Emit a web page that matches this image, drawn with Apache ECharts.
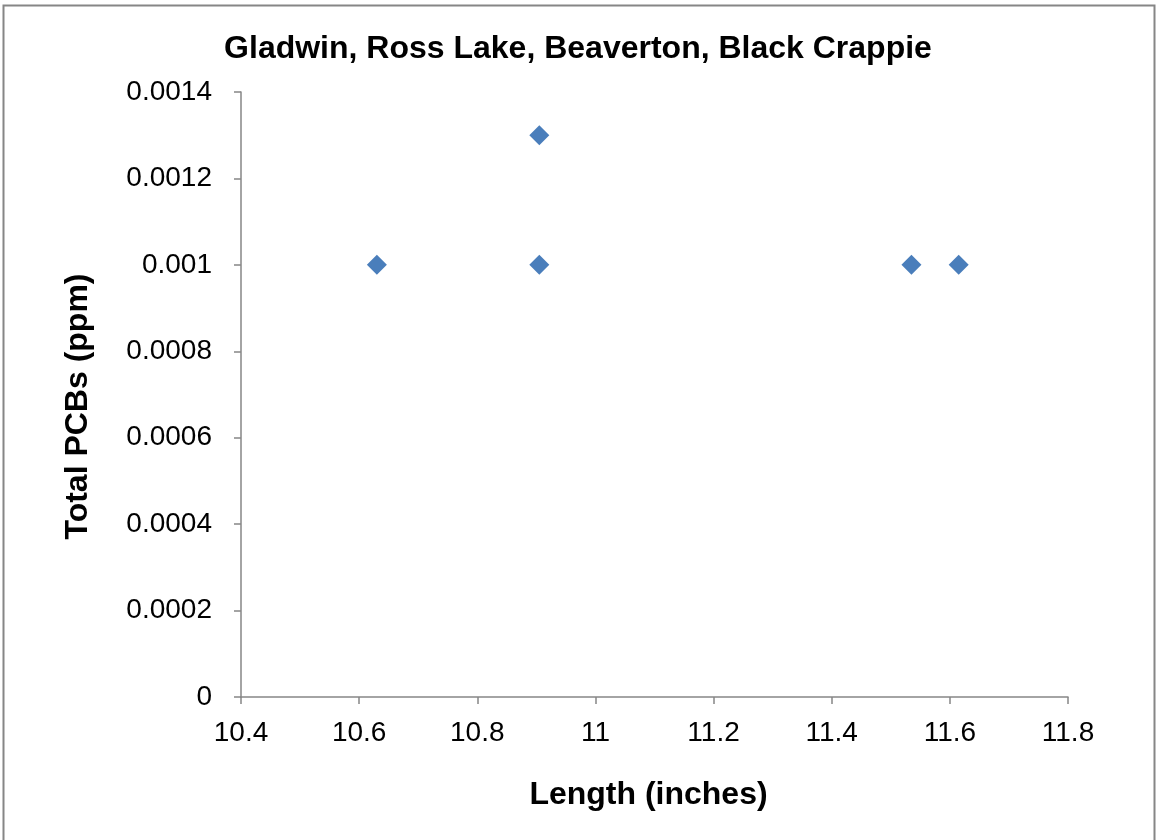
<!DOCTYPE html>
<html>
<head>
<meta charset="utf-8">
<script src="https://cdn.jsdelivr.net/npm/echarts@6/dist/echarts.min.js"></script>
<style>
  html, body { margin: 0; padding: 0; background: #fff; }
  #main { width: 1156px; height: 840px; }
</style>
</head>
<body>
<div id="main"></div>
<script>
// 数据
var lengths = [10.63, 10.905, 10.905, 11.535, 11.615];
var pcbs = [0.001, 0.0013, 0.001, 0.001, 0.001];
var xTicks = [10.4, 10.6, 10.8, 11, 11.2, 11.4, 11.6, 11.8];
var yTicks = [0, 0.0002, 0.0004, 0.0006, 0.0008, 0.001, 0.0012, 0.0014];

var points = lengths.map(function (x, i) { return [x, pcbs[i]]; });

var myChart = echarts.init(document.getElementById('main'));
var axisGray = '#868686';
var font = 'Liberation Sans, Arial, sans-serif';

myChart.setOption({
  animation: false,
  title: {
    text: 'Gladwin, Ross Lake, Beaverton, Black Crappie',
    left: 'center',
    top: 28,
    textStyle: { fontFamily: font, fontSize: 32, fontWeight: 'bold', color: '#000' }
  },
  graphic: [{
    type: 'rect',
    shape: { x: 3.5, y: 5.5, width: 1151, height: 900 },
    style: { fill: 'none', stroke: '#868686', lineWidth: 2 }
  }],
  grid: { left: 241, top: 92, right: 88, bottom: 143 },
  xAxis: {
    type: 'value',
    min: xTicks[0],
    max: xTicks[xTicks.length - 1],
    interval: 0.2,
    name: 'Length (inches)',
    nameLocation: 'middle',
    nameGap: 82,
    // 右侧padding让标题略向左
    nameTextStyle: { fontFamily: font, fontSize: 32, fontWeight: 'bold', color: '#000', padding: [0, 12, 0, 0] },
    splitLine: { show: false },
    axisLine: { lineStyle: { color: axisGray, width: 1.5 } },
    axisTick: { show: true, length: 7, lineStyle: { color: axisGray, width: 1.5 } },
    axisLabel: {
      margin: 22,
      fontFamily: font, fontSize: 28, color: '#000',
      formatter: function (v) { return String(+v.toFixed(1)); }
    }
  },
  yAxis: {
    type: 'value',
    min: yTicks[0],
    max: yTicks[yTicks.length - 1],
    interval: 0.0002,
    name: 'Total PCBs (ppm)',
    nameLocation: 'middle',
    nameGap: 147,
    // 旋转后的标题稍微向下
    nameTextStyle: { fontFamily: font, fontSize: 32, fontWeight: 'bold', color: '#000', padding: [0, 24, 0, 0] },
    splitLine: { show: false },
    axisLine: { show: true, lineStyle: { color: axisGray, width: 1.5 } },
    axisTick: { show: true, length: 7, lineStyle: { color: axisGray, width: 1.5 } },
    axisLabel: {
      margin: 29,
      fontFamily: font, fontSize: 28, color: '#000',
      formatter: function (v) { return String(+v.toFixed(4)); }
    }
  },
  series: [{
    type: 'scatter',
    symbol: 'diamond',
    symbolSize: [20, 20],
    itemStyle: { color: '#4a7ebb', opacity: 1 },
    data: points
  }]
});
</script>
</body>
</html>
